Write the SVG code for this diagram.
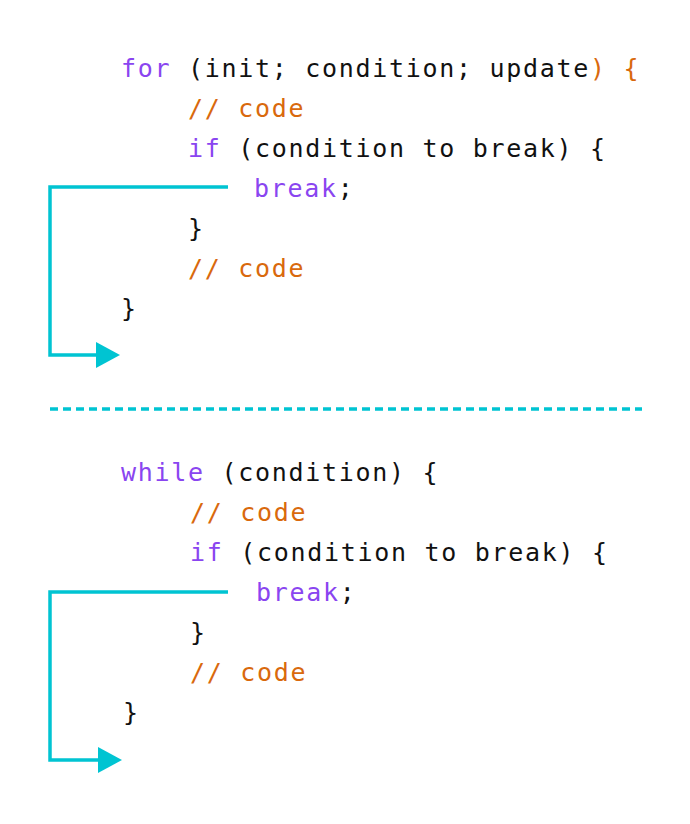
<svg xmlns="http://www.w3.org/2000/svg" width="690" height="824" viewBox="0 0 690 824">
<style>
text{font-family:"DejaVu Sans Mono","Liberation Mono",monospace;font-size:25px;letter-spacing:1.7px;fill:#111;white-space:pre}
.k{fill:#8a45f0}.c{fill:#d9690d}
.ln{fill:none;stroke:#00c4d2;stroke-width:3.5}
</style>
<defs><marker id="a" markerWidth="8" markerHeight="8" refX="1" refY="4" orient="auto" markerUnits="userSpaceOnUse" viewBox="0 0 8 8"><path d="M0,0L8,4L0,8z" fill="#00c4d2"/></marker></defs>
<rect width="690" height="824" fill="#fff"/>
<g id="for-block">
<text x="121" y="77"><tspan class="k">for</tspan> (init; condition; update<tspan class="c">) {</tspan></text>
<text x="188" y="117" class="c">// code</text>
<text x="188" y="157"><tspan class="k">if</tspan> (condition to break) {</text>
<text x="254" y="197"><tspan class="k">break</tspan>;</text>
<text x="188" y="237">}</text>
<text x="188" y="277" class="c">// code</text>
<text x="121" y="317">}</text>
</g>
<g id="while-block">
<text x="121" y="481"><tspan class="k">while</tspan> (condition) {</text>
<text x="190" y="521" class="c">// code</text>
<text x="190" y="561"><tspan class="k">if</tspan> (condition to break) {</text>
<text x="256" y="601"><tspan class="k">break</tspan>;</text>
<text x="190" y="641">}</text>
<text x="190" y="681" class="c">// code</text>
<text x="123" y="721">}</text>
</g>
<g id="connectors">
<path class="ln" d="M228,187H50V355H98"/>
<path d="M96,342L120,355L96,368z" fill="#00c4d2"/>
<line class="ln" x1="50" y1="409" x2="642" y2="409" stroke-dasharray="8,5" stroke-width="3"/>
<path class="ln" d="M228,592H50V760H100"/>
<path d="M98,747L122,760L98,773z" fill="#00c4d2"/>
</g>
</svg>
